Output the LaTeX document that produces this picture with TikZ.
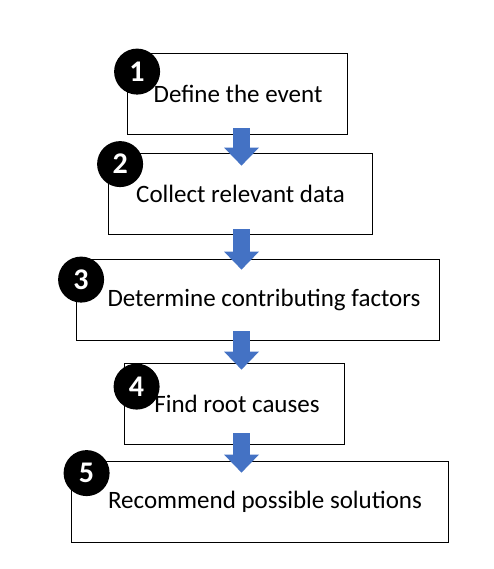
\documentclass[tikz,border=0pt]{standalone}
\usepackage{fontspec}
\setmainfont{Carlito}
\definecolor{arrowblue}{HTML}{4472C4}
\usetikzlibrary{positioning,arrows.meta}
\tikzstyle{stepbox}=[draw,rectangle,line width=.8pt,minimum
height=81pt,inner sep=0pt,font=\fontsize{25}{29}\selectfont]
\tikzstyle{num}=[circle,fill=black,text=white,inner sep=0pt,minimum
size=46pt,font=\bfseries\fontsize{30}{32}\selectfont]
\tikzstyle{flow}=[draw=arrowblue,line width=17pt,
  -{Triangle[width=35pt,length=18pt,line width=0pt]}]

\begin{document}
\begin{tikzpicture}[x=1pt, y=-1pt, on grid]
  \fill[white] (0,0) rectangle (493,569);
  \useasboundingbox (0,0) rectangle (493,569);
  \coordinate (ax) at (241.5,0);

  \node[stepbox, minimum width=220pt] (b1) at (237,93.5)
  {\hspace{2pt}Define the event};
  \node[stepbox, minimum width=264pt, below=100pt of b1, xshift=3.5pt] (b2)
  {Collect relevant data\hspace{3pt}};
  \node[stepbox, minimum width=363pt, below=106pt of b2, xshift=17pt] (b3)
  {\hspace{13pt}Determine contributing factors};
  \node[stepbox, minimum width=220pt, below=104pt of b3, xshift=-23.5pt] (b4)
  {\hspace{6pt}Find root causes};
  \node[stepbox, minimum width=377pt, below=98pt of b4, xshift=25.5pt] (b5)
  {\hspace{11pt}Recommend possible solutions};

  \draw[flow] ([yshift=6pt]b1.south -| ax) -- ([yshift=-13pt]b2.north -| ax);
  \draw[flow] ([yshift=5pt]b2.south -| ax) -- ([yshift=-11pt]b3.north -| ax);
  \draw[flow] ([yshift=9pt]b3.south -| ax) -- ([yshift=-7pt]b4.north -| ax);
  \draw[flow] ([yshift=11pt]b4.south -| ax) -- ([yshift=-12pt]b5.north -| ax);

  \node[num] (n1) at ([xshift=10.5pt,yshift=-19pt]b1.north west) {1};
  \node[num] (n2) at ([xshift=12pt,yshift=-11.5pt]b2.north west) {2};
  \node[num] (n3) at ([xshift=5.5pt,yshift=-21pt]b3.north west) {3};
  \node[num] (n4) at ([xshift=13pt,yshift=-24pt]b4.north west) {4};
  \node[num] (n5) at ([xshift=16pt,yshift=-12.5pt]b5.north west) {5};
\end{tikzpicture}
\end{document}
